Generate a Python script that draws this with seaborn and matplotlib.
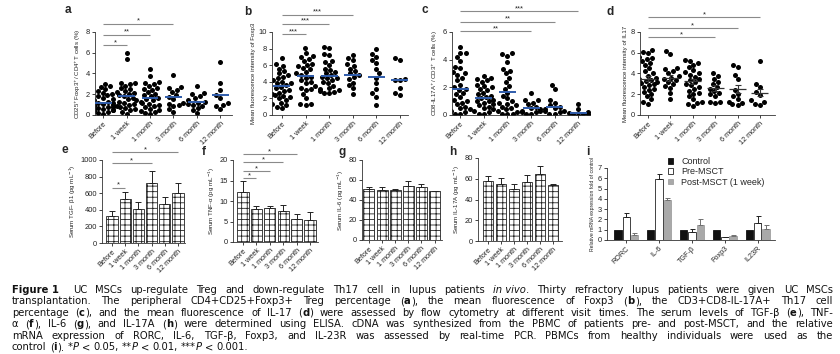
import re
import warnings
warnings.filterwarnings("ignore")
import numpy as np
import pandas as pd
import matplotlib
matplotlib.use("Agg")
import matplotlib.pyplot as plt
import seaborn as sns

# ---------------- data ----------------
visits = ["Before", "1 week", "1 month", "3 month", "6 month", "12 month"]

# a: CD25+Foxp3+/CD4+ T cells (%)
treg_pct = [
    [0.1, 0.2, 0.3, 0.4, 0.5, 0.5, 0.6, 0.6, 0.7, 0.8, 0.8, 0.9, 1.0, 1.0, 1.1, 1.2, 1.2, 1.3, 1.4, 1.5, 1.6, 1.8, 1.9, 2.0, 2.1, 2.3, 2.5, 2.7, 2.8, 3.0],
    [0.1, 0.3, 0.5, 0.6, 0.8, 0.9, 1.0, 1.1, 1.2, 1.3, 1.5, 1.6, 1.8, 1.9, 2.0, 2.1, 2.2, 2.3, 2.5, 2.6, 2.8, 3.0, 3.1, 3.1, 0.7, 1.4, 5.4, 6.0],
    [0.1, 0.2, 0.3, 0.5, 0.6, 0.8, 0.9, 1.0, 1.1, 1.2, 1.4, 1.5, 1.6, 1.8, 1.9, 2.0, 2.2, 2.4, 2.6, 2.8, 3.0, 3.1, 3.2, 3.8, 4.4, 0.4, 1.3, 2.5],
    [0.3, 0.6, 0.9, 1.0, 1.2, 1.5, 1.7, 1.9, 2.2, 2.4, 2.6, 2.7, 3.9, 1.1],
    [0.2, 0.5, 0.7, 0.9, 1.0, 1.1, 1.3, 1.4, 1.6, 1.8, 2.0, 2.1, 2.8, 1.2],
    [0.6, 0.9, 1.2, 1.6, 1.9, 2.4, 3.1, 5.1, 1.0],
]
treg_mean = [1.19, 1.83, 1.67, 1.70, 1.28, 1.93]

# b: MFI of Foxp3
foxp3_mfi = [
    [0.9, 1.0, 1.2, 1.3, 1.5, 1.8, 2.0, 2.2, 2.4, 2.5, 2.7, 2.9, 3.0, 3.2, 3.4, 3.6, 3.8, 3.9, 4.0, 4.2, 4.4, 4.6, 4.8, 5.0, 5.3, 5.6, 5.9, 6.1, 6.9, 2.3],
    [1.2, 1.3, 1.3, 2.0, 2.5, 3.0, 3.1, 3.5, 3.9, 4.0, 4.2, 4.5, 4.8, 5.0, 5.2, 5.5, 5.7, 5.9, 6.0, 6.2, 6.5, 6.8, 7.0, 7.1, 7.5, 8.1, 4.6, 3.2],
    [2.6, 2.7, 2.9, 3.0, 3.2, 3.5, 3.8, 4.0, 4.2, 4.4, 4.6, 4.8, 5.0, 5.2, 5.4, 5.6, 6.0, 6.4, 6.5, 7.2, 7.4, 8.1, 8.2, 3.1, 2.8, 4.5],
    [2.5, 3.2, 3.6, 3.9, 4.3, 4.6, 4.8, 5.0, 5.3, 5.6, 5.9, 6.1, 6.6, 6.9, 7.2],
    [1.2, 2.2, 2.6, 3.1, 3.9, 4.5, 5.0, 5.6, 6.3, 6.6, 7.0, 7.3, 7.9],
    [2.4, 2.6, 3.3, 4.2, 4.2, 6.6, 6.9, 4.3],
]
foxp3_mean = [3.49, 4.70, 4.70, 4.80, 4.60, 4.20]

# c: CD8-IL17A+/CD3+ T cells (%)
th17_pct = [
    [0.1, 0.1, 0.2, 0.3, 0.4, 0.5, 0.6, 0.8, 0.9, 1.0, 1.1, 1.3, 1.5, 1.6, 1.8, 1.9, 2.0, 2.2, 2.5, 2.7, 2.9, 3.0, 3.1, 3.4, 3.5, 3.9, 4.2, 4.5, 4.5, 4.9],
    [0.1, 0.1, 0.2, 0.3, 0.4, 0.5, 0.6, 0.7, 0.8, 0.9, 1.0, 1.0, 1.1, 1.2, 1.3, 1.4, 1.5, 1.6, 1.8, 1.9, 2.0, 2.1, 2.2, 2.4, 2.5, 2.6, 2.7, 2.8],
    [0.05, 0.1, 0.1, 0.2, 0.3, 0.4, 0.5, 0.6, 0.7, 0.8, 0.9, 1.0, 1.2, 1.4, 1.6, 1.9, 2.1, 2.4, 2.7, 3.0, 3.2, 3.3, 3.8, 4.3, 4.4, 4.5],
    [0.1, 0.1, 0.2, 0.2, 0.3, 0.3, 0.4, 0.5, 0.6, 0.8, 0.9, 1.1, 1.1, 1.6],
    [0.1, 0.1, 0.2, 0.3, 0.4, 0.5, 0.6, 0.7, 0.9, 1.1, 1.9, 2.2, 0.3],
    [0.0, 0.05, 0.1, 0.1, 0.15, 0.2, 0.4, 0.8],
]
th17_mean = [1.86, 1.21, 1.65, 0.52, 0.60, 0.17]

# d: MFI of IL17 (mean +/- SEM)
il17_mfi = [
    [1.1, 1.3, 1.5, 1.8, 2.0, 2.2, 2.5, 2.7, 2.9, 3.0, 3.1, 3.2, 3.3, 3.5, 3.6, 3.8, 4.0, 4.2, 4.5, 4.8, 5.0, 5.2, 5.4, 5.5, 5.6, 6.0, 6.1, 6.3, 2.4, 3.4],
    [1.5, 2.1, 2.6, 3.0, 3.2, 3.4, 3.6, 3.8, 4.0, 4.2, 4.4, 4.5, 5.9, 6.2, 2.8, 3.5],
    [0.9, 1.1, 1.3, 1.5, 1.8, 2.0, 2.3, 2.5, 2.7, 2.9, 3.0, 3.2, 3.4, 3.5, 3.7, 3.9, 4.0, 4.3, 4.6, 4.8, 5.0, 5.2, 5.3, 1.2, 2.1, 4.1],
    [1.2, 1.3, 1.3, 1.8, 2.0, 2.3, 2.5, 2.7, 3.0, 3.2, 3.5, 3.8, 4.0, 2.1],
    [1.0, 1.1, 1.3, 1.5, 1.8, 2.0, 2.4, 3.5, 3.9, 4.6, 4.8, 1.2],
    [1.0, 1.1, 1.4, 1.9, 2.2, 2.7, 3.0, 5.2, 1.3],
]
il17_mean = [3.48, 3.55, 3.23, 2.58, 2.48, 2.16]
il17_sem = [0.25, 0.30, 0.25, 0.30, 0.40, 0.35]

# e-h: serum cytokines (mean, SEM)
tgf_mean = [320, 528, 408, 728, 472, 608]
tgf_sem = [70, 84, 92, 144, 84, 112]
tnf_mean = [12.2, 8.0, 8.2, 7.6, 5.6, 5.3]
tnf_sem = [2.7, 0.9, 0.6, 1.4, 1.3, 2.1]
il6_mean = [50.7, 50.0, 50.0, 54.0, 52.7, 49.0]
il6_sem = [2.0, 2.7, 1.3, 4.7, 3.3, 0.3]
il17a_mean = [57.4, 54.8, 50.3, 57.0, 64.8, 54.2]
il17a_sem = [4.9, 5.5, 4.5, 6.9, 7.2, 0.6]

# i: relative mRNA expression
genes = ["RORC", "IL-6", "TGF-β", "Foxp3", "IL23R"]
groups_i = ["Control", "Pre-MSCT", "Post-MSCT (1 week)"]
control_val = [1.0, 1.0, 1.0, 1.0, 1.0]
pre_val = [2.2, 5.9, 0.75, 0.26, 1.68]
pre_err = [0.45, 0.5, 0.30, 0.06, 0.65]
post_val = [0.5, 3.9, 1.45, 0.39, 1.04]
post_err = [0.15, 0.2, 0.6, 0.13, 0.42]

# significance brackets: (group1, group2, height, label)
sig_a = [(0, 1, 6.7, "*"), (0, 2, 7.75, "**"), (0, 3, 8.8, "*")]
sig_b = [(0, 1, 9.7, "***"), (0, 2, 11.0, "***"), (0, 3, 12.1, "***")]
sig_c = [(0, 3, 6.05, "**"), (0, 4, 6.75, "**"), (0, 5, 7.5, "***")]
sig_d = [(0, 3, 7.5, "*"), (0, 4, 8.4, "*"), (0, 5, 9.45, "*")]
sig_e = [(0, 1, 668, "*"), (0, 3, 960, "*"), (0, 5, 1092, "*")]
sig_f = [(0, 1, 15.5, "*"), (0, 2, 17.3, "*"), (0, 3, 19.4, "*"), (0, 4, 21.5, "*")]

NB = "\u00a0"
caption = [
    f"<b>Figure{NB}1</b> UC MSCs up-regulate Treg and down-regulate Th17 cell in lupus patients <i>in{NB}vivo</i>. Thirty refractory lupus patients were given UC MSCs",
    "transplantation. The peripheral CD4+CD25+Foxp3+ Treg percentage (<b>a</b>), the mean fluorescence of Foxp3 (<b>b</b>), the CD3+CD8-IL-17A+ Th17 cell",
    "percentage (<b>c</b>), and the mean fluorescence of IL-17 (<b>d</b>) were assessed by flow cytometry at different visit times. The serum levels of TGF-β (<b>e</b>), TNF-",
    "α (<b>f</b>), IL-6 (<b>g</b>), and IL-17A (<b>h</b>) were determined using ELISA. cDNA was synthesized from the PBMC of patients pre- and post-MSCT, and the relative",
    "mRNA expression of RORC, IL-6, TGF-β, Foxp3, and IL-23R was assessed by real-time PCR. PBMCs from healthy individuals were used as the",
    "control (<b>i</b>). *<i>P</i> < 0.05, **<i>P</i> < 0.01, ***<i>P</i> < 0.001.",
]

# ---------------- style ----------------
sns.set_theme(style="white")
plt.rcParams["font.family"] = ["Liberation Sans", "DejaVu Sans"]
plt.rcParams["mathtext.fontset"] = "dejavusans"
plt.rcParams["hatch.linewidth"] = 0.6

W, H = 840, 354
fig = plt.figure(figsize=(8.4, 3.54), dpi=100)


def rect(l, r, t, b):
    return [l / W, 1 - b / H, (r - l) / W, (b - t) / H]


BLUE = "#2f5cab"
SIGC = "#8a8a8a"


def style_axes(ax, ylim, yticks, xlim, ylabel, xlabels, ylabsize=4.4):
    ax.set_ylim(*ylim)
    ax.set_yticks(yticks)
    ax.set_xlim(*xlim)
    for s in ["top", "right"]:
        ax.spines[s].set_visible(False)
    for s in ["left", "bottom"]:
        ax.spines[s].set_linewidth(0.6)
        ax.spines[s].set_color("#333333")
    ax.tick_params(axis="both", length=2.3, width=0.6, pad=1.2, labelsize=5.4,
                   colors="#222222", direction="out", bottom=True, left=True)
    ax.set_xticks(range(len(xlabels)))
    ax.set_xticklabels(xlabels, rotation=45, ha="right", rotation_mode="anchor", fontsize=5.2)
    ax.set_xlabel("")
    ax.set_ylabel(ylabel, fontsize=ylabsize, labelpad=2, color="#222222")


def add_sig(ax, sigs):
    for x1, x2, y, lab in sigs:
        ax.plot([x1, x2], [y, y], color=SIGC, lw=0.8, clip_on=False, solid_capstyle="butt")
        ax.annotate(lab, xy=((x1 + x2) / 2, y), xytext=(0, -0.8), textcoords="offset points",
                    ha="center", va="bottom", fontsize=5.5, annotation_clip=False)


def dot_panel(box, data, means, ylim, yticks, xlim, ylabel, sigs, sem=None):
    ax = fig.add_axes(rect(*box))
    ax.set_ylim(*ylim)
    ax.set_xlim(*xlim)
    df = pd.DataFrame({"visit": np.repeat(visits, [len(g) for g in data]),
                       "value": np.concatenate(data)})
    sns.swarmplot(data=df, x="visit", y="value", order=visits, color="black",
                  size=3.6, ax=ax, zorder=2, linewidth=0)
    x = np.arange(len(visits))
    if sem is None:
        ax.hlines(means, x - 0.36, x + 0.36, color=BLUE, lw=1.4, zorder=3)
    else:
        ax.hlines(means, x - 0.38, x + 0.38, color="#333333", lw=0.9, zorder=3)
        ax.errorbar(x, means, yerr=sem, fmt="none", ecolor="#333333", elinewidth=0.8,
                    capsize=2.2, capthick=0.8, zorder=3)
    style_axes(ax, ylim, yticks, xlim, ylabel, visits)
    add_sig(ax, sigs)
    return ax


def bar_panel(box, means, sems, ylim, yticks, xlim, ylabel, sigs):
    ax = fig.add_axes(rect(*box))
    df = pd.DataFrame({"visit": visits, "value": means})
    sns.barplot(data=df, x="visit", y="value", order=visits, color="white",
                edgecolor="#222222", linewidth=0.6, width=0.84, errorbar=None,
                hatch="+++", saturation=1, ax=ax, zorder=2)
    x = np.arange(len(visits))
    ax.errorbar(x, means, yerr=[np.zeros(len(means)), sems], fmt="none",
                ecolor="#222222", elinewidth=0.7, capsize=2.0, capthick=0.7, zorder=3)
    style_axes(ax, ylim, yticks, xlim, ylabel, visits)
    add_sig(ax, sigs)
    return ax


# ---------------- top row ----------------
dot_panel((95, 232, 32, 115), treg_pct, treg_mean, (0, 8), [0, 2, 4, 6, 8], (-0.35, 5.5),
          r"CD25$^{+}$Foxp3$^{+}$/ CD4$^{+}$T cells (%)", sig_a)
dot_panel((272, 408, 32, 115), foxp3_mfi, foxp3_mean, (0, 10), [0, 2, 4, 6, 8, 10], (-0.42, 5.34),
          "Mean fluorescence intensity of Foxp3", sig_b)
dot_panel((452, 590, 32, 115), th17_pct, th17_mean, (0, 6), [0, 2, 4, 6], (-0.35, 5.5),
          r"CD8-IL17A$^{+}$/ CD3$^{+}$ T cells (%)", sig_c)
dot_panel((640, 775, 32, 115), il17_mfi, il17_mean, (0, 8), [0, 2, 4, 6, 8], (-0.35, 5.67),
          "Mean fluorescence intensity of IL17", sig_d, sem=il17_sem)

# ---------------- bottom row ----------------
bar_panel((102, 185, 160, 243), tgf_mean, tgf_sem, (0, 1000), [0, 200, 400, 600, 800, 1000],
          (-0.76, 5.53), r"Serum TGF- β1 (pg mL$^{-1}$)", sig_e)
bar_panel((233, 318, 160, 242), tnf_mean, tnf_sem, (0, 20), [0, 5, 10, 15, 20],
          (-0.75, 5.6), r"Serum TNF-α (pg mL$^{-1}$)", sig_f)
bar_panel((362, 442, 160, 240), il6_mean, il6_sem, (0, 80), [0, 20, 40, 60, 80],
          (-0.53, 5.57), r"Serum IL-6 (pg mL$^{-1}$)", [])
bar_panel((478, 562, 158, 241), il17a_mean, il17a_sem, (0, 80), [0, 20, 40, 60, 80],
          (-0.77, 5.69), r"Serum IL-17A (pg mL$^{-1}$)", [])

# panel i
axi = fig.add_axes(rect(607, 775, 168, 240))
dfi = pd.DataFrame({
    "gene": genes * 3,
    "group": np.repeat(groups_i, len(genes)),
    "value": control_val + pre_val + post_val,
})
pal = {"Control": "#111111", "Pre-MSCT": "white", "Post-MSCT (1 week)": "#a9a9a9"}
sns.barplot(data=dfi, x="gene", y="value", hue="group", hue_order=groups_i, order=genes,
            palette=pal, saturation=1, width=0.74, gap=0.12, errorbar=None,
            linewidth=0.6, ax=axi, legend=False, zorder=2)
bar_conts = list(axi.containers)
edge_cols = ["#111111", "#222222", "#a0a0a0"]
err_cols = ["#111111", "#222222", "#707070"]
for k, cont in enumerate(bar_conts):
    for p in cont.patches:
        p.set_edgecolor(edge_cols[k])
vals_i = [control_val, pre_val, post_val]
errs_i = [None, pre_err, post_err]
for k, cont in enumerate(bar_conts):
    if errs_i[k] is None:
        continue
    xs = [p.get_x() + p.get_width() / 2 for p in cont.patches]
    axi.errorbar(xs, vals_i[k], yerr=[np.zeros(len(xs)), errs_i[k]], fmt="none",
                 ecolor=err_cols[k], elinewidth=0.7, capsize=1.8, capthick=0.7, zorder=3)
style_axes(axi, (0, 7), range(8), (-0.58, 4.52), "Relative mRNA expression fold of control", genes,
           ylabsize=3.7)
axi.legend(bar_conts, groups_i, loc="upper left", bbox_to_anchor=(668 / W, 1 - 157 / H),
           bbox_transform=fig.transFigure, frameon=False, fontsize=6.5, handlelength=0.55,
           handleheight=0.55, handletextpad=0.9, labelspacing=0.15, borderaxespad=0, borderpad=0)

# panel letters
for lab, (px, py) in zip("abcdefghi", [(68, 10), (248, 12), (425, 10), (610, 12), (65, 150),
                                        (204, 152), (342, 152), (453, 152), (588, 152)]):
    fig.text(px / W, 1 - py / H, lab, fontsize=8.5, fontweight="bold", ha="center", va="center")

# caption: justified lines built from styled word segments
renderer = fig.canvas.get_renderer()
CAP_FS = 7.2
x_left, x_right = 12, 833
seg_re = re.compile(r"(<b>.*?</b>|<i>.*?</i>)")
for i, line in enumerate(caption):
    y = 1 - (290 + 11.4 * i) / H
    words = line.split(" ")
    word_items = []
    for w in words:
        segs = []
        for part in seg_re.split(w):
            if not part:
                continue
            weight, style = "normal", "normal"
            if part.startswith("<b>"):
                part, weight = part[3:-4], "bold"
            elif part.startswith("<i>"):
                part, style = part[3:-4], "italic"
            t = fig.text(0, y, part, fontsize=CAP_FS, ha="left", va="center",
                         family="DejaVu Sans", fontweight=weight, fontstyle=style,
                         color="#111111")
            segs.append((t, t.get_window_extent(renderer=renderer).width))
        word_items.append(segs)
    widths = [sum(wd for _, wd in segs) for segs in word_items]
    extra0 = 6 if i == 0 else 0
    if i < len(caption) - 1:
        gap = (x_right - x_left - extra0 - sum(widths)) / (len(words) - 1)
    else:
        gap = CAP_FS * 100 / 72 * 0.32
    xpos = x_left
    for k, segs in enumerate(word_items):
        if k == 1:
            xpos += extra0
        for t, wd in segs:
            t.set_x(xpos / W)
            xpos += wd
        xpos += gap

fig.savefig("out.png", dpi=100)
